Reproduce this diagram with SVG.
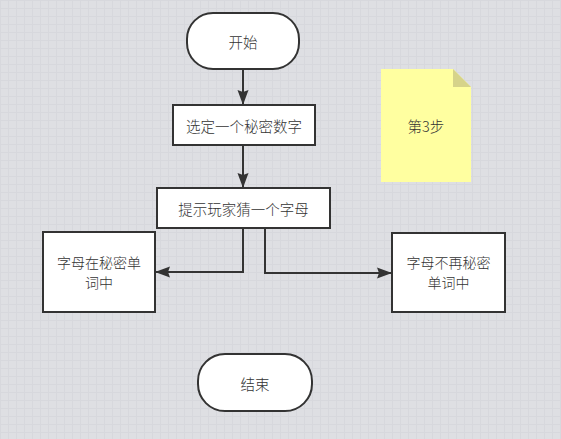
<svg xmlns="http://www.w3.org/2000/svg" width="561" height="439" viewBox="0 0 561 439">
<defs>
<style>
.n{fill:#fff;stroke:#333;stroke-width:2}
.t{font-family:"Noto Sans CJK SC","Liberation Sans",sans-serif;font-size:14.5px;font-weight:300;fill:#333;text-anchor:middle;dominant-baseline:central}
.s{font-size:14px}
.c{fill:none;stroke:#333;stroke-width:2}
</style>
<marker id="ah" viewBox="0 0 15 12" refX="14" refY="6" markerWidth="15" markerHeight="12" markerUnits="userSpaceOnUse" orient="auto">
<path d="M0,0.5 L15,6 L0,11.5 L2,6 Z" fill="#333"/>
</marker>
<pattern id="g" width="8" height="8" patternUnits="userSpaceOnUse">
<rect width="8" height="8" fill="#dedfe3"/>
<path d="M0,0.5H8M0.5,0V8" stroke="#d7d8dd" stroke-width="1"/>
</pattern>
</defs>
<rect width="561" height="439" fill="url(#g)"/>
<g id="connectors">
<path class="c" d="M243,69 V104" marker-end="url(#ah)"/>
<path class="c" d="M243,145 V187" marker-end="url(#ah)"/>
<path class="c" d="M243,228 V272 H156" marker-end="url(#ah)"/>
<path class="c" d="M265,228 V273 H391" marker-end="url(#ah)"/>
</g>
<g id="start">
<rect class="n" x="187" y="13" width="112" height="56" rx="26"/>
<text class="t" x="243" y="41">开始</text>
</g>
<g id="pick">
<rect class="n" x="173" y="105" width="142" height="40"/>
<text class="t" x="244" y="125">选定一个秘密数字</text>
</g>
<g id="prompt">
<rect class="n" x="157" y="188" width="173" height="40"/>
<text class="t" x="243.5" y="208">提示玩家猜一个字母</text>
</g>
<g id="inword">
<rect class="n" x="43" y="232" width="112" height="80"/>
<text class="t s" x="99" y="261.5">字母在秘密单</text>
<text class="t s" x="99" y="282">词中</text>
</g>
<g id="notinword">
<rect class="n" x="392" y="233" width="113" height="79"/>
<text class="t s" x="448.5" y="261.5">字母不再秘密</text>
<text class="t s" x="448.5" y="282">单词中</text>
</g>
<g id="end">
<rect class="n" x="198" y="354" width="114" height="57" rx="27"/>
<text class="t" x="255" y="383">结束</text>
</g>
<g id="note">
<path d="M381,69 H453 L471,87 V182 H381 Z" fill="#ffffa0"/>
<path d="M453,69 L471,87 H453 Z" fill="#d6d38a"/>
<text class="t" x="426" y="125">第3步</text>
</g>
</svg>
